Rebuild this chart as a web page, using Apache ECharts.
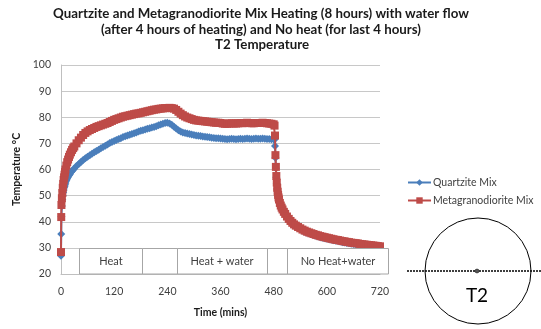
<!DOCTYPE html>
<html>
<head>
<meta charset="utf-8">
<script src="https://cdn.jsdelivr.net/npm/echarts@6/dist/echarts.min.js"></script>
<style>
html,body{margin:0;padding:0;background:#fff;}
#chart{width:541px;height:329px;}
</style>
</head>
<body>
<div id="chart"></div>
<script>
var titleLines = [
  'Quartzite and Metagranodiorite Mix Heating (8 hours) with water flow',
  '(after 4 hours of heating) and No heat (for last 4 hours)',
  'T2 Temperature'
];
var seriesNames = ['Quartzite Mix', 'Metagranodiorite Mix'];
var xTicks = [0, 120, 240, 360, 480, 600, 720];
var yTicks = [20, 30, 40, 50, 60, 70, 80, 90, 100];
var phaseLabels = ['Heat', 'Heat + water', 'No Heat+water'];

var timeMins = [0,0.5,1,2,3,4,5,6,7,8,9,10,12,14,16,18,20,22.5,25,27.5,30,
  35,40,45,50,55,60,65,70,75,80,85,90,95,100,
  105,110,115,120,125,130,135,140,145,150,155,160,165,170,175,180,185,190,195,200,205,210,215,220,225,230,235,240,245,250,
  255,260,265,270,275,280,285,290,295,300,305,310,315,320,325,330,335,340,345,350,355,360,365,370,375,380,385,390,395,400,
  405,410,415,420,425,430,435,440,445,450,455,460,465,470,475,480,
  482,483,484,485,486,487,488,489,490,491,492,494,496,498,500,503,506,510,514,518,522,526,530,535,540,545,550,555,560,565,570,575,580,585,590,595,
  600,605,610,615,620,625,630,635,640,645,650,655,660,665,670,675,680,685,690,695,700,705,710,715,720];

var quartzite = [27.0,35.3,42,46,48.5,50,51.2,52.2,53,53.6,54.2,54.8,55.7,56.5,57.1,57.7,58.2,58.9,59.4,59.9,60.4,
  61.3,62.1,62.9,63.6,64.3,64.9,65.5,66.0,66.6,67.1,67.6,68.1,68.6,69.1,
  69.6,70.1,70.5,70.9,71.3,71.7,72.0,72.4,72.7,73.0,73.3,73.6,73.9,74.2,74.5,74.8,75.0,75.3,75.6,75.8,76.1,76.3,76.6,76.9,77.2,77.5,77.8,77.9,77.6,77.1,
  76.4,75.7,75.0,74.5,74.2,74.0,73.8,73.6,73.4,73.2,73.0,72.9,72.8,72.6,72.5,72.4,72.3,72.2,72.1,72.0,72.0,71.9,71.8,71.7,71.6,71.7,71.8,71.7,71.6,71.7,
  71.8,71.7,71.8,71.9,71.8,71.7,71.8,71.9,71.8,71.8,71.9,71.8,71.7,71.7,71.6,71.6,
  71.5,69,64.5,60.5,57,54.5,52.5,51,49.8,48.8,48,46.8,45.8,45,44.3,43.4,42.6,41.6,40.7,39.9,39.2,38.6,38.1,37.6,37.1,36.6,36.2,35.8,35.5,35.2,34.9,34.6,34.4,34.1,33.9,33.7,
  33.5,33.3,33.1,32.9,32.7,32.6,32.4,32.2,32.1,31.9,31.8,31.6,31.5,31.4,31.3,31.1,31.0,30.9,30.8,30.7,30.6,30.5,30.4,30.3,30.2];

var metagranodiorite = [28.4,41.8,46.4,49,51,53,54.5,56,57,58,59,60,61.5,62.8,63.8,64.8,65.7,66.6,67.5,68.2,68.8,
  70,71.2,72.2,73.2,74,74.6,75.1,75.5,75.9,76.3,76.6,76.9,77.2,77.5,
  77.8,78.2,78.6,79.0,79.3,79.6,79.9,80.2,80.4,80.6,80.8,81.0,81.2,81.4,81.5,81.7,81.9,82.1,82.3,82.5,82.7,82.9,83.0,83.2,83.3,83.4,83.5,83.5,83.6,83.5,
  83.3,82.8,82.1,81.4,80.8,80.3,79.9,79.6,79.3,79.0,78.8,78.7,78.6,78.5,78.4,78.3,78.2,78.1,78.0,77.9,77.9,77.8,77.6,77.5,77.5,77.6,77.7,77.6,77.6,77.7,
  77.8,77.7,77.8,77.9,77.8,77.7,77.7,77.8,77.8,77.8,77.9,77.8,77.7,77.6,77.5,77.3,
  76.8,73,65.5,61,57.5,55,53,51.5,50.3,49.3,48.5,47.2,46.2,45.4,44.7,43.8,43.0,42.0,41.1,40.3,39.6,39.0,38.5,38.0,37.5,37.0,36.6,36.2,35.9,35.6,35.3,35.0,34.8,34.5,34.3,34.1,
  33.9,33.7,33.5,33.3,33.1,33.0,32.8,32.6,32.5,32.3,32.2,32.0,31.9,31.8,31.7,31.5,31.4,31.3,31.2,31.1,31.0,30.9,30.8,30.7,30.6];

function pairs(xs, ys){ return xs.map(function(x,i){ return [x, ys[i]]; }); }

var FONT = 'Lato, "Open Sans", sans-serif';
var chart = echarts.init(document.getElementById('chart'), null, {renderer:'canvas'});

var boxStyle = {fill:'#ffffff', stroke:'#a6a6a6', lineWidth:1};
var boxTextStyle = {fontFamily: FONT, fontSize: 11, fill: '#404040'};
var titleStyle = {fontFamily: FONT, fontWeight: 'bold', fontSize: 13.3, fill: '#1a1a1a', textAlign:'center', textVerticalAlign:'middle'};

chart.setOption({
  animation: false,
  backgroundColor: '#ffffff',
  legend: {
    orient: 'vertical',
    left: 407,
    top: 177,
    padding: 0,
    itemWidth: 23,
    itemHeight: 8,
    itemGap: 7,
    textStyle: {fontFamily: FONT, fontSize: 10.5, color: '#404040', padding: [0,0,0,-3]},
    data: [seriesNames[0], seriesNames[1]]
  },
  grid: {left: 61, right: 161, top: 65, bottom: 55},
  xAxis: {
    type: 'value',
    min: xTicks[0], max: xTicks[xTicks.length-1], interval: 120,
    name: 'Time (mins)',
    nameLocation: 'middle',
    nameGap: 33,
    nameTextStyle: {fontFamily: FONT, fontWeight: 'bold', fontSize: 10.5, color: '#1a1a1a'},
    axisLine: {show: true, lineStyle: {color: '#bfbfbf'}},
    axisTick: {show: false},
    axisLabel: {fontFamily: FONT, fontSize: 10.5, color: '#404040', margin: 12},
    splitLine: {show: false}
  },
  yAxis: {
    type: 'value',
    min: yTicks[0], max: yTicks[yTicks.length-1], interval: 10,
    name: 'Temperature \u00B0C',
    nameLocation: 'middle',
    nameGap: 38,
    nameRotate: 90,
    nameTextStyle: {fontFamily: FONT, fontWeight: 'bold', fontSize: 10.5, color: '#1a1a1a'},
    axisLine: {show: true, lineStyle: {color: '#bfbfbf'}},
    axisTick: {show: false},
    axisLabel: {fontFamily: FONT, fontSize: 10.5, color: '#404040', margin: 10},
    splitLine: {show: true, lineStyle: {color: '#c8c8c8', width: 1}}
  },
  series: [
    {
      name: seriesNames[0], type: 'line',
      data: pairs(timeMins, quartzite),
      symbol: 'diamond', symbolSize: 8, showAllSymbol: true,
      itemStyle: {color: '#4a7ebb'},
      lineStyle: {color: '#4a7ebb', width: 2},
      z: 2
    },
    {
      name: seriesNames[1], type: 'line',
      data: pairs(timeMins, metagranodiorite),
      symbol: 'rect', symbolSize: 8, showAllSymbol: true,
      itemStyle: {color: '#be4b48'},
      lineStyle: {color: '#be4b48', width: 2},
      z: 3
    }
  ],
  graphic: [
    {type:'text', z:101, x:261, y:14, style: Object.assign({text: titleLines[0]}, titleStyle)},
    {type:'text', z:101, x:261, y:30, style: Object.assign({text: titleLines[1]}, titleStyle)},
    {type:'text', z:101, x:262, y:45, style: Object.assign({text: titleLines[2]}, titleStyle)},
    {type:'rect', z:100, shape:{x:79.5, y:248.5, width:63, height:25.5}, style: boxStyle},
    {type:'rect', z:100, shape:{x:142.5, y:248.5, width:35, height:25.5}, style: boxStyle},
    {type:'rect', z:100, shape:{x:177.5, y:248.5, width:90, height:25.5}, style: boxStyle},
    {type:'rect', z:100, shape:{x:267.5, y:248.5, width:20, height:25.5}, style: boxStyle},
    {type:'rect', z:100, shape:{x:287.5, y:248.5, width:101, height:25.5}, style: boxStyle},
    {type:'text', z:101, x:111, y:261, style: Object.assign({text: phaseLabels[0], textAlign:'center', textVerticalAlign:'middle'}, boxTextStyle)},
    {type:'text', z:101, x:222, y:261, style: Object.assign({text: phaseLabels[1], textAlign:'center', textVerticalAlign:'middle'}, boxTextStyle)},
    {type:'text', z:101, x:338, y:261, style: Object.assign({text: phaseLabels[2], textAlign:'center', textVerticalAlign:'middle'}, boxTextStyle)},
    {type:'circle', z:100, shape:{cx:478, cy:271, r:53}, style:{fill:'none', stroke:'#000000', lineWidth:1}},
    {type:'line', z:100, shape:{x1:407, y1:271, x2:541, y2:271}, style:{stroke:'#000000', lineWidth:1.5, lineDash:[2,1]}},
    {type:'circle', z:101, shape:{cx:477, cy:271, r:2}, style:{fill:'#555555', stroke:'#000000', lineWidth:0.5}},
    {type:'text', z:101, x:477, y:296, style:{text:'T2', textAlign:'center', textVerticalAlign:'middle', fontFamily: FONT, fontSize:19, fill:'#000000'}}
  ]
});
</script>
</body>
</html>
